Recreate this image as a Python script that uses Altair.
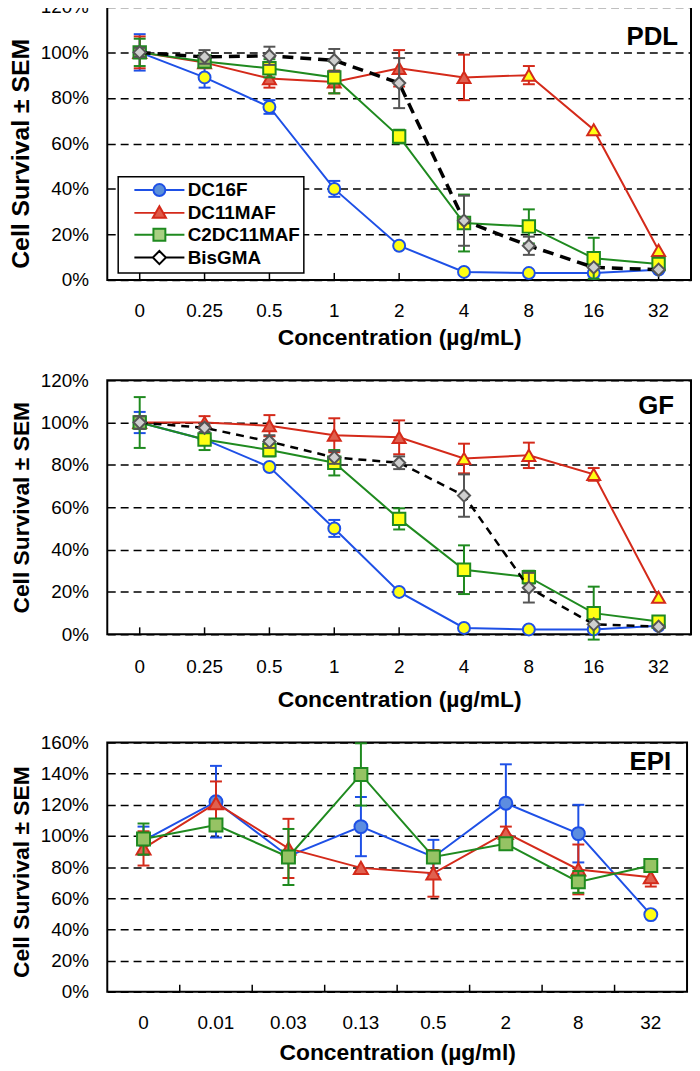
import altair as alt
import pandas as pd

FONT = "Liberation Sans"
SERIES = ["DC16F", "DC11MAF", "C2DC11MAF", "BisGMA"]

# ---------------- PDL ----------------
pdl_conc = ["0", "0.25", "0.5", "1", "2", "4", "8", "16", "32"]
pdl_dc16f = [100, 89, 76, 40, 15, 3.5, 3, 3, 4.5]
pdl_dc16f_sem = [8, 4.5, 3, 3.5, 0, 0, 0, 0, 0]
pdl_dc16f_sig = [0, 1, 1, 1, 1, 1, 1, 1, 1]
pdl_dc11maf = [100, 95.5, 88.5, 87, 93, 89, 90, 66, 13]
pdl_dc11maf_sem = [7, 2, 4, 5, 8, 10, 4, 0, 0]
pdl_dc11maf_sig = [0, 0, 0, 0, 0, 0, 1, 1, 1]
pdl_c2 = [100, 96, 93, 89, 63, 25, 23.5, 9.5, 7]
pdl_c2_sem = [6, 2, 4, 7, 3, 12.5, 7.5, 9, 0]
pdl_c2_sig = [0, 0, 1, 1, 1, 1, 1, 1, 1]
pdl_bis = [100, 98, 98.5, 96.5, 86.5, 26, 15, 5.5, 4.5]
pdl_bis_sem = [2, 3, 4, 5, 11, 11, 4, 0, 0]
pdl_bis_sig = [0, 0, 0, 0, 0, 0, 0, 0, 0]

# ---------------- GF ----------------
gf_conc = ["0", "0.25", "0.5", "1", "2", "4", "8", "16", "32"]
gf_dc16f = [100, 92, 79, 50, 20, 3, 2.3, 2.3, 4]
gf_dc16f_sem = [5, 0, 0, 4, 0, 0, 0, 0, 0]
gf_dc16f_sig = [0, 1, 1, 1, 1, 1, 1, 1, 1]
gf_dc11maf = [100, 100, 98.5, 94, 93, 83, 84.5, 75.5, 17.5]
gf_dc11maf_sem = [3, 3, 5, 8, 8, 7, 6, 3, 0]
gf_dc11maf_sig = [0, 0, 0, 0, 0, 1, 1, 1, 1]
gf_c2 = [100, 92, 87, 81, 54.5, 30.5, 27, 10, 6]
gf_c2_sem = [12, 5, 3, 6, 5, 11.5, 3, 12.5, 0]
gf_c2_sig = [0, 1, 1, 1, 1, 1, 1, 1, 1]
gf_bis = [100, 97.5, 91, 83.5, 81, 65.5, 22, 4.7, 3.6]
gf_bis_sem = [3, 2, 3, 3, 3, 10, 7, 0, 0]
gf_bis_sig = [0, 0, 0, 0, 0, 0, 0, 0, 0]

# ---------------- EPI ----------------
epi_conc = ["0", "0.01", "0.03", "0.13", "0.5", "2", "8", "32"]
epi_dc16f = [97, 122, 87, 106, 86.5, 121, 101.5, 49.5]
epi_dc16f_sem = [9, 23, 0, 19, 11, 25, 18.5, 0]
epi_dc16f_sig = [0, 0, 0, 0, 0, 0, 0, 1]
epi_dc11maf = [92, 121, 92, 79.5, 76, 102, 78.5, 73.5]
epi_dc11maf_sem = [11, 14, 19, 0, 15, 4, 16, 6]
epi_dc11maf_sig = [0, 0, 0, 0, 0, 0, 0, 0]
epi_c2 = [98, 107, 86.5, 139.5, 86.5, 95, 70.5, 81]
epi_c2_sem = [10, 3, 18, 20, 0, 0, 7, 0]
epi_c2_sig = [0, 0, 0, 0, 0, 0, 0, 0]

# ---------------- styles ----------------
LINE = {"DC16F": "#1e50e6", "DC11MAF": "#d42a1a", "C2DC11MAF": "#1f8a1f", "BisGMA": "#000000"}
ERRC = {"DC16F": "#1e50e6", "DC11MAF": "#d42a1a", "C2DC11MAF": "#1f8a1f", "BisGMA": "#555555"}
MSTROKE = {"DC16F": "#1e50e6", "DC11MAF": "#d42a1a", "C2DC11MAF": "#1f8a1f", "BisGMA": "#555555"}
NSFILL = {"DC16F": "#5d8de0", "DC11MAF": "#e0604f", "C2DC11MAF": "#96c364", "BisGMA": "#cfcfcf"}
LEGFILL = ["#5b8fd9", "#df5a48", "#a9cf82", "#ffffff"]
LEGSTROKE = ["#1e50e6", "#d42a1a", "#1f8a1f", "#000000"]
SHAPE = {"DC16F": "circle", "DC11MAF": "triangle-up", "C2DC11MAF": "square", "BisGMA": "diamond"}
YELLOW = "#ffff14"
LEGPATHS = [
    "M-4.2,0H-1M1,0H4.2M-1,0A1,1,0,1,1,1,0A1,1,0,1,1,-1,0Z",
    "M-4.2,0H-0.64M0.64,0H4.2M0,-1.1L1.1,0.8L-1.1,0.8Z",
    "M-4.2,0H-1M1,0H4.2M-1,-1H1V1H-1Z",
    "M-4.2,0H-1.1M1.1,0H4.2M0,-1.1L1.1,0L0,1.1L-1.1,0Z",
]


def make_panel(tag, conc, series, ymax, W, H, lab_pad, title_pad, ytitle_size,
               ytitle_y, xtitle, tag_dx, tag_dy, boundary_ticks, msize,
               bis_dash=None, bis_width=2, legend=False):
    xscale = alt.Scale(type="band", paddingInner=0, paddingOuter=0)
    xaxis = alt.Axis(title=xtitle, labelAngle=0, labelPadding=lab_pad,
                     titlePadding=title_pad, ticks=False, domain=False, grid=False,
                     labelFontSize=19, titleFontSize=23, titleFontWeight="bold",
                     labelColor="black", titleColor="black")
    yaxis = alt.Axis(title="Cell Survival ± SEM", values=list(range(0, ymax + 1, 20)),
                     labelExpr="datum.value + '%'", grid=True, gridDash=[8, 5],
                     gridColor="#000000", gridWidth=1.5, ticks=False, domain=False,
                     labelPadding=19, minExtent=68, maxExtent=68,
                     titleFontSize=ytitle_size, titleFontWeight="bold", titlePadding=6,
                     titleY=ytitle_y, labelFontSize=19, labelColor="black",
                     titleColor="black")
    yscale = alt.Scale(domain=[0, ymax], nice=False, zero=True)

    def X(**kw):
        return alt.X("conc:N", sort=conc, scale=xscale, axis=xaxis, **kw)

    def Y(field):
        return alt.Y(f"{field}:Q", scale=yscale, axis=yaxis)

    layers = []
    # small inward ticks on the x axis
    tdf = pd.DataFrame({"conc": conc[1:] if boundary_ticks else conc})
    if boundary_ticks:
        xt = X(bandPosition=0)
    else:
        xt = X()
    layers.append(alt.Chart(tdf).mark_rule(color="black", strokeWidth=1.5).encode(
        x=xt, y=alt.value(H), y2=alt.value(H - 7)))

    for name, vals, sems, sig in series:
        df = pd.DataFrame({
            "conc": conc,
            "idx": list(range(len(conc))),
            "val": vals,
            "lo": [v - e for v, e in zip(vals, sems)],
            "hi": [v + e for v, e in zip(vals, sems)],
            "err": sems,
            "sig": sig,
        })
        base = alt.Chart(df)
        if name == "BisGMA":
            line = base.mark_line(color=LINE[name], strokeWidth=bis_width, strokeDash=bis_dash)
        else:
            line = base.mark_line(color=LINE[name], strokeWidth=2)
        layers.append(line.encode(x=X(), y=Y("val"), order=alt.Order("idx:Q")))
        eb = base.transform_filter("datum.err > 0")
        layers.append(eb.mark_rule(color=ERRC[name], strokeWidth=2).encode(
            x=X(), y=Y("lo"), y2="hi:Q"))
        for f in ["lo", "hi"]:
            layers.append(eb.mark_tick(color=ERRC[name], size=12, thickness=2, opacity=1).encode(
                x=X(), y=Y(f)))
        layers.append(base.mark_point(shape=SHAPE[name], size=msize[name], filled=True,
                                      stroke=MSTROKE[name], strokeWidth=2, opacity=1).encode(
            x=X(), y=Y("val"),
            fill=alt.condition("datum.sig == 1", alt.value(YELLOW), alt.value(NSFILL[name]))))

    layers.append(alt.Chart(pd.DataFrame({"t": [tag]})).mark_text(
        align="right", baseline="middle", fontSize=26, fontWeight="bold", font=FONT,
        color="black").encode(text="t:N", x=alt.value(W - tag_dx), y=alt.value(tag_dy)))

    if legend:
        leg = alt.Legend(title=None, orient="none", legendX=11, legendY=171,
                         direction="vertical", fillColor="white", strokeColor="black",
                         padding=4, labelFont=FONT, labelFontWeight="bold",
                         labelFontSize=19, labelColor="black", symbolSize=144,
                         symbolStrokeWidth=2, symbolOffset=28, labelOffset=19,
                         rowPadding=1, symbolOpacity=1)
        ldf = pd.DataFrame({"series": SERIES})
        layers.append(alt.Chart(ldf).transform_filter("false").mark_point(
            filled=True, opacity=1).encode(
            shape=alt.Shape("series:N", scale=alt.Scale(domain=SERIES, range=LEGPATHS), legend=leg),
            fill=alt.Fill("series:N", scale=alt.Scale(domain=SERIES, range=LEGFILL), legend=leg),
            stroke=alt.Stroke("series:N", scale=alt.Scale(domain=SERIES, range=LEGSTROKE), legend=leg),
        ))

    return alt.layer(*layers).properties(width=W, height=H)


msize12 = {"DC16F": 144, "DC11MAF": 170, "C2DC11MAF": 156, "BisGMA": 150}
msize13 = {"DC16F": 170, "DC11MAF": 200, "C2DC11MAF": 170, "BisGMA": 160}

p1 = make_panel("PDL", pdl_conc, [
    ("DC16F", pdl_dc16f, pdl_dc16f_sem, pdl_dc16f_sig),
    ("DC11MAF", pdl_dc11maf, pdl_dc11maf_sem, pdl_dc11maf_sig),
    ("C2DC11MAF", pdl_c2, pdl_c2_sem, pdl_c2_sig),
    ("BisGMA", pdl_bis, pdl_bis_sem, pdl_bis_sig),
], 120, 588, 275, 22, 6, 25, 147.5, "Concentration (µg/mL)", 13, 30.5, False, msize12,
    bis_dash=[11, 7], bis_width=3.5, legend=True)

p2 = make_panel("GF", gf_conc, [
    ("DC16F", gf_dc16f, gf_dc16f_sem, gf_dc16f_sig),
    ("DC11MAF", gf_dc11maf, gf_dc11maf_sem, gf_dc11maf_sig),
    ("C2DC11MAF", gf_c2, gf_c2_sem, gf_c2_sig),
    ("BisGMA", gf_bis, gf_bis_sem, gf_bis_sig),
], 120, 588, 256, 23, 13, 23, 128, "Concentration (µg/mL)", 17, 26, False, msize12,
    bis_dash=[8, 6], bis_width=2.5)

p3 = make_panel("EPI", epi_conc, [
    ("DC16F", epi_dc16f, epi_dc16f_sem, epi_dc16f_sig),
    ("DC11MAF", epi_dc11maf, epi_dc11maf_sem, epi_dc11maf_sig),
    ("C2DC11MAF", epi_c2, epi_c2_sem, epi_c2_sig),
], 160, 584, 251, 22, 9, 23, 130, "Concentration (µg/ml)", 16, 20, True, msize13)

chart = alt.vconcat(p1, p2, p3, spacing=20).properties(
    padding={"top": -15, "left": 0, "right": 0, "bottom": 0}
).configure(font=FONT).configure_view(
    stroke="black", strokeWidth=2
).configure_legend(strokeWidth=1.5)

chart.save("out.html", embed_options={"renderer": "svg", "actions": False})
